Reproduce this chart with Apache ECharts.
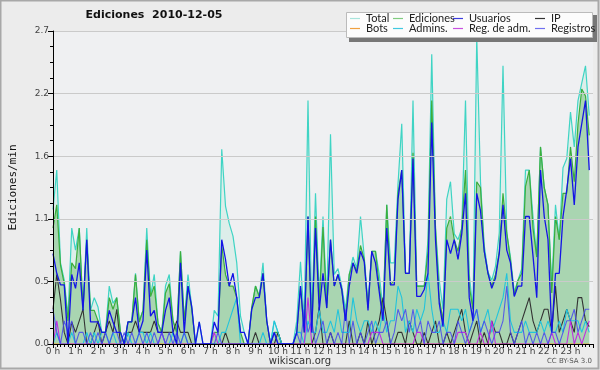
<!DOCTYPE html>
<html><head><meta charset="utf-8">
<script src="https://cdn.jsdelivr.net/npm/echarts@6/dist/echarts.min.js"></script>
<style>html,body{margin:0;padding:0;background:#fff}#c{width:600px;height:370px}</style>
</head><body><div id="c"></div>
<script>
var hourLabels = ['0 h','1 h','2 h','3 h','4 h','5 h','6 h','7 h','8 h','9 h','10 h','11 h','12 h','13 h','14 h','15 h','16 h','17 h','18 h','19 h','20 h','21 h','22 h','23 h'];
var seriesNames = ['Total','Ediciones','Usuarios','IP','Bots','Admins.','Reg. de adm.','Registros'];

var total = [1.16,1.5,0.7,0.55,0.24,1.0,0.81,1.0,0.29,1.0,0.29,0.4,0.32,0.1,0.1,0.5,0.35,0.4,0.1,0,0.19,0.19,0.61,0.2,
0.29,1.0,0.41,0.6,0.18,0.1,0.5,0.6,0.2,0.1,0.8,0.2,0.6,0.32,0,0.19,0,0,0,0.29,0.24,1.68,1.19,1.04,
0.93,0.7,0.24,0.1,0,0.3,0.5,0.41,0.7,0.2,0,0.2,0.1,0,0,0,0,0.2,0.71,0.2,2.1,0.2,1.3,0.4,
1.1,0.35,1.81,0.6,0.65,0.5,0.3,0.6,0.75,0.65,1.1,0.75,0.35,0.8,0.8,0.6,0.3,1.2,0.7,0.7,1.38,1.9,0.61,0.61,
2.1,0.5,0.5,0.5,0.9,2.5,1.0,0.55,0.3,1.25,1.4,0.95,0.9,1.0,2.1,0.6,0.3,2.65,1.4,0.85,0.62,0.55,0.67,0.96,
2.4,0.96,0.75,0.45,0.55,0.65,1.5,1.5,1.1,0.75,1.7,1.35,1.2,0.5,1.2,0.9,1.52,1.6,2.0,1.7,2.1,2.25,2.4,1.97];
var ediciones = [1.0,1.2,0.68,0.52,0.2,0.7,0.65,1.0,0.29,0.9,0.29,0.29,0.2,0.1,0.1,0.4,0.3,0.4,0.1,0,0.19,0.19,0.6,0.19,
0.29,0.9,0.41,0.5,0.18,0.1,0.44,0.52,0.2,0.1,0.8,0.2,0.5,0.3,0,0,0,0,0,0.1,0.1,0.85,0.6,0.5,
0.5,0.4,0.1,0,0,0.32,0.5,0.41,0.61,0.2,0,0.1,0.1,0,0,0,0,0.1,0.5,0.1,1.1,0.1,1.1,0.35,
1.01,0.31,0.9,0.5,0.6,0.47,0.2,0.6,0.7,0.63,0.85,0.73,0.31,0.8,0.8,0.5,0.25,1.2,0.51,0.55,1.3,1.5,0.61,0.61,
1.65,0.5,0.5,0.5,0.8,2.1,1.0,0.4,0.2,1.0,1.1,0.9,0.8,1.0,1.5,0.5,0.3,1.4,1.35,0.8,0.61,0.5,0.6,0.8,
1.3,0.96,0.72,0.42,0.55,0.61,1.36,1.5,1.0,0.75,1.7,1.35,1.2,0.44,1.1,0.9,1.3,1.3,1.7,1.4,1.9,2.2,2.14,1.8];
var usuarios = [0.78,0.61,0.51,0.51,0,0.6,0.48,0.7,0.29,0.9,0.19,0.19,0.19,0.1,0.1,0.29,0.19,0.1,0.1,0,0.19,0.19,0.4,0.1,
0.2,0.81,0.24,0.29,0.1,0.1,0.29,0.4,0.1,0,0.7,0.1,0.5,0.32,0,0.19,0,0,0,0.19,0.1,0.9,0.73,0.5,
0.61,0.4,0.1,0.1,0,0.3,0.4,0.4,0.61,0.2,0,0.1,0,0,0,0,0,0.1,0.5,0.1,1.1,0.1,1.0,0.29,
0.61,0.31,0.9,0.5,0.6,0.47,0.2,0.5,0.7,0.61,0.8,0.71,0.29,0.8,0.7,0.45,0.2,1.0,0.51,0.51,1.25,1.5,0.61,0.61,
1.6,0.41,0.41,0.47,0.61,1.91,0.9,0.35,0.15,0.9,0.78,0.9,0.73,0.95,1.3,0.4,0.2,1.3,1.15,0.8,0.61,0.48,0.57,0.78,
1.2,0.81,0.7,0.41,0.5,0.5,1.1,1.1,0.76,0.4,1.5,1.1,0.9,0.1,0.61,0.61,1.1,1.33,1.6,1.2,1.7,1.9,2.1,1.5];
var ip = [0.3,0.6,0.38,0.1,0,0.19,0.1,0.2,0.3,0,0,0.1,0.2,0,0.1,0.2,0.1,0.3,0,0,0.1,0.1,0.2,0.1,
0.1,0.1,0.1,0.2,0.1,0.1,0.1,0.1,0.1,0.2,0.1,0.1,0.1,0,0,0,0,0,0,0,0,0,0.1,0,
0,0,0,0,0,0,0.1,0,0,0,0,0,0.1,0,0,0,0,0,0,0,0,0,0.1,0.32,
0,0,0.1,0,0,0,0,0.2,0,0,0.1,0,0.2,0,0.1,0.2,0.4,0.2,0,0,0.1,0.1,0,0.2,
0.1,0,0,0.1,0,0.1,0.2,0,0,0.1,0,0.1,0.2,0.3,0.1,0,0.1,0.2,0,0.1,0,0.2,0.1,0.1,
0,0,0.1,0,0.1,0.2,0.3,0.4,0.2,0.1,0.2,0.3,0.3,0.1,0.5,0.1,0.2,0.3,0.2,0.1,0.4,0.4,0.2,0.15];
var bots = [0,0,0,0,0,0,0,0,0,0,0,0,0,0,0,0,0,0,0,0,0,0,0,0,
0,0,0,0,0,0,0,0,0,0,0,0,0,0,0,0,0,0,0,0,0,0,0,0,
0,0,0,0,0,0,0,0,0,0,0,0,0,0,0,0,0,0,0,0,0,0,0,0,
0,0,0,0,0,0,0,0,0,0,0,0,0,0,0,0,0,0,0,0,0,0,0,0,
0,0,0,0,0,0,0,0,0,0,0,0,0,0,0,0,0,0,0,0,0,0,0,0,
0,0,0,0,0,0,0,0,0,0,0,0,0,0,0,0,0,0,0,0,0,0,0,0];
var admins = [0,0.1,0,0,0,0.1,0,0,0,0.1,0,0.1,0,0.1,0.1,0,0.1,0,0,0,0.1,0,0,0.1,
0.1,0,0.1,0,0,0.1,0,0,0.1,0,0,0.1,0,0,0,0,0,0,0,0,0,0.1,0.1,0.2,
0.3,0.4,0,0,0,0,0,0,0.1,0,0,0.2,0.1,0,0,0,0,0.1,0.1,0,0.2,0.1,0.1,0.3,
0.1,0.1,0.2,0.1,0.3,0.1,0.1,0.1,0.4,0.2,0.1,0.2,0.2,0.1,0.2,0.1,0.3,0.1,0.2,0.2,0.5,0.4,0.1,0.2,
0.1,0.3,0.2,0.3,0.61,0.3,0.1,0.1,0.2,0.1,0.3,0.3,0.3,0.2,0.3,0.1,0.2,0.3,0.1,0.2,0.3,0.1,0.2,0.3,
0.4,0.61,0.2,0.1,0.1,0.1,0.2,0.1,0.1,0.1,0.2,0.1,0.2,0.1,0.1,0.2,0.1,0.3,0.2,0.2,0.2,0.1,0.2,0.1];
var regAdm = [0,0.2,0,0,0,0,0,0,0,0,0,0,0,0,0,0,0,0,0,0,0,0,0,0,
0,0,0,0,0,0.1,0,0,0,0,0,0,0,0,0,0,0,0,0,0.1,0,0,0,0,
0,0,0,0,0,0,0,0,0,0,0,0,0,0,0,0,0,0,0,0,0.4,0,0,0,
0,0,0,0,0,0,0,0,0,0,0,0,0,0.1,0.1,0.1,0,0,0,0,0,0,0,0,
0,0.1,0.1,0,0,0,0,0,0,0,0,0,0.1,0.1,0.1,0,0,0,0.1,0,0,0.2,0,0,
0,0,0,0,0,0,0,0,0,0,0,0,0,0.1,0,0,0,0,0.2,0,0.1,0,0.1,0.2];
var registros = [0.3,0.1,0,0.2,0.1,0.2,0,0.1,0.1,0,0.1,0,0.1,0,0.1,0,0.1,0.1,0,0.1,0,0.1,0,0.1,
0,0.1,0,0.1,0,0.1,0,0.1,0,0.1,0,0.1,0,0,0,0,0,0,0,0,0.1,0,0,0,
0,0,0,0,0,0,0,0,0,0,0,0.1,0,0,0,0,0,0.1,0,0.3,0.1,0.2,0,0.1,
0.2,0,0.1,0,0.1,0,0.3,0,0.2,0,0.1,0,0.1,0.2,0,0.1,0.1,0.2,0,0.1,0.3,0.2,0.3,0.1,
0.3,0.1,0.2,0,0.2,0.1,0.1,0.2,0,0.1,0.1,0,0.2,0.1,0,0.1,0.2,0.3,0.1,0.2,0.1,0,0.1,0.1,
0.2,0.5,0.1,0,0.1,0.2,0,0.1,0,0.1,0,0.1,0,0.1,0.1,0,0.1,0.2,0.2,0.3,0.1,0.2,0.3,0.3];

var colors = {
  'Total':'#3fd4c4','Ediciones':'#3cae3c','Usuarios':'#1414e6','IP':'#333333',
  'Bots':'#f0a030','Admins.':'#22c4dc','Reg. de adm.':'#c030e0','Registros':'#5050f0'
};
var legendColors = {
  'Total':'#a8e4dc','Ediciones':'#80cc80','Usuarios':'#3c3ce0','IP':'#333333',
  'Bots':'#f0a040','Admins.':'#40c8e0','Reg. de adm.':'#c850e0','Registros':'#7070f0'
};
function pts(arr){ return arr.map(function(v,i){ return [i, v]; }); }
function line(name, arr, z, extra){
  var s = {name:name, type:'line', data:pts(arr), symbol:'none', z:z, animation:false,
    color: legendColors[name], lineStyle:{width:1.1, color:colors[name]}};
  if (extra) for (var k in extra) s[k] = extra[k];
  return s;
}
var series = [
  line('Total', total, 1, {areaStyle:{color:'rgba(190,236,222,0.5)'}, lineStyle:{width:1.2,color:colors['Total']}}),
  line('Ediciones', ediciones, 2, {areaStyle:{color:'rgba(80,170,80,0.52)'}, lineStyle:{width:1.2,color:colors['Ediciones']}}),
  line('Bots', bots, 3),
  line('IP', ip, 4),
  line('Admins.', admins, 4),
  line('Reg. de adm.', regAdm, 5),
  line('Registros', registros, 5, {lineStyle:{width:1.1,color:'rgba(70,70,240,0.85)'}}),
  line('Usuarios', usuarios, 6, {lineStyle:{width:1.3,color:colors['Usuarios']}})
];

var legendPos = [
  ['Total',345,8],['Ediciones',388,8],['Usuarios',448,8],['IP',530,8],
  ['Bots',345,18],['Admins.',388,18],['Reg. de adm.',448,18],['Registros',530,18]
];
var legends = legendPos.map(function(p){
  return {data:[p[0]], left:p[1], top:p[2], icon:'rect', itemWidth:10, itemHeight:1.2, itemGap:0,
    selectedMode:false, z:20, textStyle:{fontFamily:'Lato', fontSize:11, color:'#222', padding:[0,0,0,1]}};
});

var chart = echarts.init(document.getElementById('c'), null, {renderer:'canvas'});
chart.setOption({
  animation:false,
  backgroundColor:'#ececec',
  grid:{left:46, top:31, width:547, height:313, show:true, backgroundColor:'#eff0f2', borderWidth:0},
  xAxis:{type:'value', min:0, max:144, interval:6, z:10,
    axisLine:{show:true, onZero:false, lineStyle:{color:'#000', width:1}},
    axisTick:{show:true, length:4, lineStyle:{color:'#000'}},
    minorTick:{show:true, splitNumber:6, length:3, lineStyle:{color:'#000'}},
    splitLine:{show:false},
    axisLabel:{fontFamily:'DejaVu Sans', fontSize:9, color:'#444', margin:3,
      formatter:function(v){ var k=Math.round(v/6); return k<hourLabels.length ? hourLabels[k] : ''; }}},
  yAxis:{type:'value', min:0, max:2.7, interval:0.54, z:10,
    name:'Ediciones/min', nameLocation:'middle', nameGap:34, nameRotate:90,
    nameTextStyle:{fontFamily:'DejaVu Sans Mono', fontSize:11, color:'#111'},
    axisLine:{show:true, lineStyle:{color:'#000', width:1}},
    axisTick:{show:true, length:5, lineStyle:{color:'#000'}},
    minorTick:{show:true, splitNumber:4, length:3, lineStyle:{color:'#000'}},
    splitLine:{show:true, lineStyle:{color:'#cacaca', width:1}},
    axisLabel:{fontFamily:'DejaVu Sans', fontSize:9, color:'#444', margin:4,
      formatter:function(v){ return v.toFixed(1); }}},
  legend: legends,
  series: series,
  graphic:[
    {type:'rect', shape:{x:0.5,y:0.5,width:598,height:368}, style:{fill:'none', stroke:'#a8a8a8', lineWidth:2}, z:-1, silent:true},
    {type:'rect', shape:{x:349,y:15,width:248,height:27}, style:{fill:'#777'}, z:15},
    {type:'rect', shape:{x:346.5,y:12.5,width:246,height:25}, style:{fill:'#fcfcfc', stroke:'#bbb', lineWidth:1}, z:16},
    {type:'text', x:154, y:10, style:{text:'Ediciones  2010-12-05', font:'bold 11px "DejaVu Sans"', fill:'#111', textAlign:'center'}, z:20},
    {type:'text', x:300, y:356, style:{text:'wikiscan.org', font:'10px "DejaVu Sans"', fill:'#333', textAlign:'center'}, z:20},
    {type:'text', x:592, y:358, style:{text:'CC BY-SA 3.0', font:'7px "DejaVu Sans"', fill:'#555', textAlign:'right'}, z:20}
  ]
});
</script></body></html>
